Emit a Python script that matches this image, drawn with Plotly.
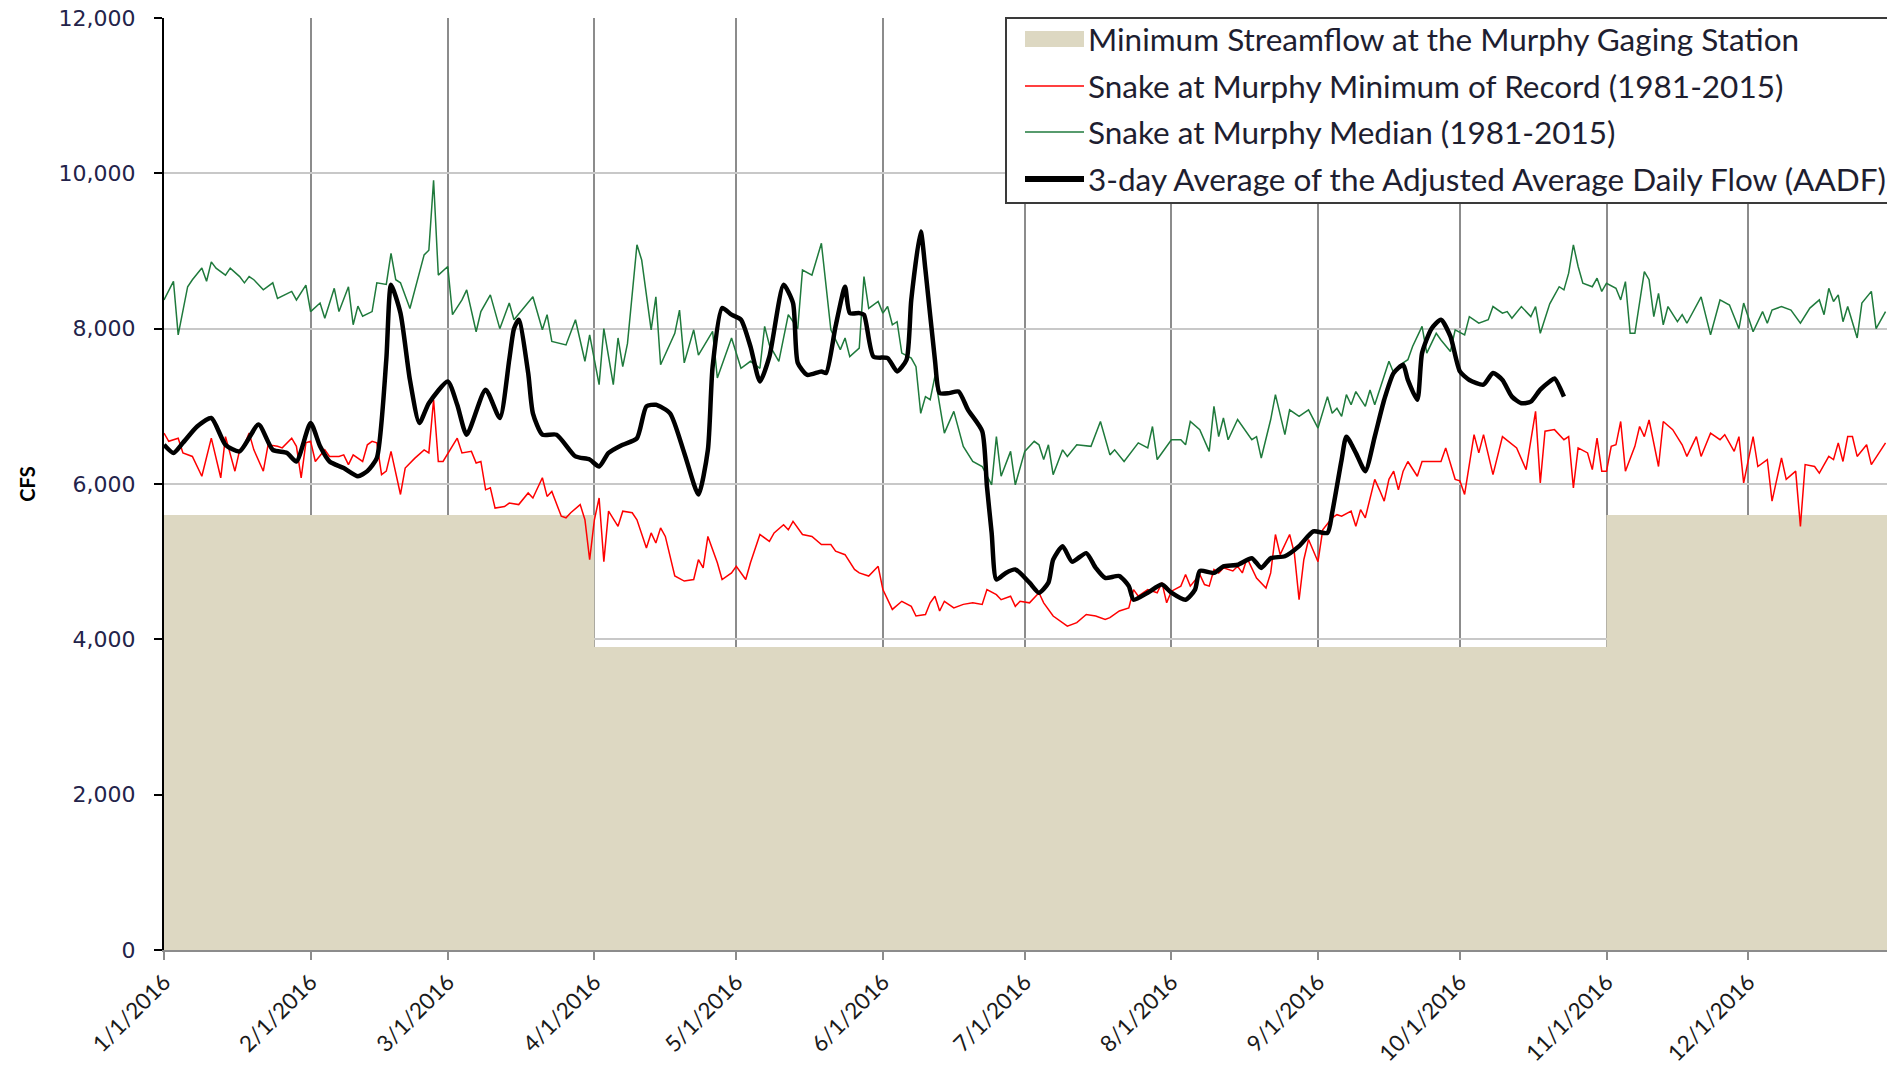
import plotly.graph_objects as go
import pandas as pd

# ---------------- data ----------------
BASE = "2016-01-01"

tick_dates = ["2016-01-01", "2016-02-01", "2016-03-01", "2016-04-01", "2016-05-01", "2016-06-01",
              "2016-07-01", "2016-08-01", "2016-09-01", "2016-10-01", "2016-11-01", "2016-12-01"]
tick_labels = ["1/1/2016", "2/1/2016", "3/1/2016", "4/1/2016", "5/1/2016", "6/1/2016",
               "7/1/2016", "8/1/2016", "9/1/2016", "10/1/2016", "11/1/2016", "12/1/2016"]

# Minimum streamflow at the Murphy gaging station (step)
min_flow_dates = ["2016-01-01", "2016-04-01", "2016-11-01", "2017-01-01"]
min_flow_cfs = [5600, 3900, 5600, 5600]

# Snake at Murphy median (1981-2015): day of year (0 = Jan 1) and CFS
median_day = [
    0, 2, 3, 5, 6, 8, 9, 10, 11, 13,
    14, 16, 17, 18, 19, 21, 23, 24, 27, 28,
    30, 31, 33, 34, 36, 37, 39, 40, 41, 42,
    44, 45, 47, 48, 49, 50, 52, 54, 55, 56,
    57, 58, 60, 61, 63, 64, 66, 67, 69, 71,
    73, 74, 78, 80, 81, 82, 85, 87, 89, 90,
    92, 93, 95, 96, 97, 98, 100, 101, 103, 104,
    105, 108, 109, 110, 112, 113, 116, 117, 120, 122,
    124, 126, 127, 128, 130, 132, 134, 135, 137, 139,
    141, 143, 144, 145, 147, 148, 149, 151, 152, 153,
    154, 155, 156, 158, 159, 160, 161, 162, 163, 165,
    167, 169, 171, 173, 175, 176, 177, 179, 180, 182,
    184, 185, 186, 187, 188, 190, 191, 193, 196, 198,
    200, 201, 203, 206, 208, 209, 210, 213, 215, 216,
    217, 219, 221, 222, 223, 224, 225, 227, 230, 231,
    232, 234, 235, 237, 238, 240, 242, 244, 246, 247,
    248, 249, 250, 251, 252, 254, 255, 256, 258, 259,
    260, 262, 263, 264, 266, 267, 269, 270, 272, 273,
    275, 276, 278, 280, 281, 283, 284, 285, 287, 289,
    290, 291, 293, 295, 296, 297, 298, 299, 300, 302,
    303, 304, 305, 307, 308, 309, 310, 311, 313, 314,
    315, 316, 317, 318, 320, 321, 322, 325, 327, 329,
    331, 333, 334, 336, 338, 339, 340, 342, 344, 346,
    348, 350, 351, 352, 353, 354, 355, 356, 358, 359,
    361, 362, 364,
]
median_cfs = [
    8370, 8610, 7920, 8540, 8630, 8780, 8610, 8860, 8780, 8690,
    8780, 8670, 8590, 8670, 8630, 8500, 8590, 8390, 8480, 8370,
    8560, 8220, 8330, 8135, 8520, 8220, 8540, 8050, 8290, 8160,
    8220, 8590, 8570, 8970, 8630, 8590, 8260, 8710, 8950, 9010,
    9910, 8690, 8800, 8180, 8370, 8500, 7960, 8220, 8435, 8000,
    8330, 8115, 8410, 7985, 8180, 7835, 7790, 8115, 7580, 7920,
    7280, 8000, 7280, 7880, 7510, 7810, 9080, 8885, 7985, 8410,
    7535, 7940, 8240, 7560, 7985, 7660, 7965, 7365, 7880, 7490,
    7580, 7490, 8030, 7790, 7580, 8180, 8000, 8755, 8690, 9100,
    7985, 7730, 7880, 7640, 7750, 8670, 8260, 8350, 8200, 8285,
    8050, 8090, 7685, 7620, 7510, 6910, 7125, 7085, 7385, 6655,
    6935, 6485, 6290, 6225, 5990, 6610, 6100, 6420, 5990, 6420,
    6550, 6505, 6315, 6505, 6120, 6440, 6355, 6505, 6485, 6805,
    6375, 6440, 6290, 6530, 6465, 6740, 6315, 6570, 6570, 6505,
    6805, 6700, 6420, 7000, 6610, 6850, 6570, 6830, 6570, 6610,
    6335, 6830, 7150, 6635, 6955, 6870, 6955, 6720, 7125, 6910,
    6975, 6870, 7150, 7020, 7190, 7000, 7210, 7020, 7385, 7580,
    7430, 7560, 7600, 7770, 8030, 7685, 7940, 7855, 7705, 7985,
    7920, 8155, 8070, 8115, 8285, 8200, 8220, 8135, 8285, 8155,
    8285, 7940, 8320, 8540, 8500, 8715, 9080, 8800, 8585, 8540,
    8650, 8480, 8585, 8520, 8370, 8605, 7940, 7940, 8735, 8630,
    8155, 8455, 8050, 8285, 8090, 8180, 8070, 8410, 7920, 8370,
    8305, 8000, 8330, 7960, 8220, 8070, 8240, 8285, 8240, 8070,
    8265, 8370, 8180, 8520, 8350, 8435, 8090, 8285, 7880, 8330,
    8480, 8000, 8220,
]

# Snake at Murphy minimum of record (1981-2015)
minrec_day = [
    0, 1, 3, 4, 6, 8, 10, 12, 13, 15,
    16, 17, 18, 19, 21, 22, 24, 25, 27, 28,
    29, 30, 31, 32, 34, 35, 37, 38, 39, 40,
    42, 43, 44, 45, 46, 47, 48, 50, 51, 53,
    55, 56, 57, 58, 59, 62, 63, 65, 66, 67,
    68, 69, 70, 72, 73, 75, 77, 78, 80, 81,
    82, 84, 85, 86, 88, 89, 90, 91, 92, 93,
    94, 96, 97, 99, 100, 102, 103, 104, 105, 106,
    108, 110, 112, 113, 114, 115, 117, 118, 120, 121,
    123, 124, 126, 128, 129, 131, 132, 133, 135, 137,
    139, 141, 142, 144, 146, 147, 149, 151, 152, 154,
    156, 158, 159, 161, 162, 163, 164, 165, 167, 169,
    171, 173, 174, 176, 177, 179, 180, 181, 183, 185,
    186, 188, 191, 193, 195, 197, 199, 200, 202, 204,
    205, 206, 208, 210, 211, 212, 213, 215, 216, 217,
    219, 220, 221, 222, 223, 224, 226, 227, 228, 229,
    231, 233, 234, 235, 236, 238, 239, 240, 241, 242,
    244, 245, 247, 248, 249, 251, 252, 253, 254, 255,
    256, 257, 258, 259, 260, 261, 262, 263, 265, 266,
    268, 270, 271, 273, 274, 275, 277, 278, 279, 281,
    283, 285, 286, 288, 290, 291, 292, 294, 296, 297,
    298, 299, 301, 302, 303, 304, 305, 306, 307, 308,
    309, 311, 312, 313, 314, 316, 317, 319, 321, 322,
    324, 325, 327, 329, 330, 332, 333, 334, 336, 337,
    339, 340, 342, 343, 345, 346, 347, 349, 350, 352,
    353, 354, 355, 356, 357, 358, 360, 361, 364,
]
minrec_cfs = [
    6655, 6550, 6590, 6400, 6355, 6100, 6590, 6080, 6610, 6165,
    6440, 6505, 6655, 6440, 6165, 6505, 6485, 6465, 6590, 6485,
    6080, 6530, 6550, 6290, 6440, 6355, 6355, 6375, 6250, 6375,
    6290, 6505, 6550, 6530, 6120, 6165, 6420, 5865, 6205, 6330,
    6440, 6400, 7085, 6290, 6290, 6590, 6400, 6420, 6270, 6290,
    5925, 5950, 5690, 5710, 5755, 5735, 5885, 5820, 6080, 5840,
    5905, 5585, 5565, 5630, 5735, 5540, 5025, 5540, 5820, 5000,
    5650, 5455, 5650, 5630, 5540, 5175, 5370, 5240, 5435, 5325,
    4815, 4750, 4770, 5025, 4920, 5325, 4985, 4770, 4855, 4940,
    4770, 4985, 5350, 5260, 5370, 5475, 5410, 5520, 5350, 5325,
    5220, 5220, 5135, 5090, 4900, 4855, 4815, 4940, 4640, 4385,
    4490, 4425, 4300, 4320, 4470, 4555, 4365, 4490, 4405, 4450,
    4470, 4450, 4640, 4575, 4510, 4555, 4425, 4490, 4470, 4600,
    4470, 4300, 4170, 4215, 4320, 4300, 4255, 4280, 4365, 4405,
    4640, 4555, 4640, 4600, 4730, 4470, 4620, 4685, 4835, 4685,
    4835, 4705, 4685, 4900, 4855, 4920, 4880, 4940, 4855, 5045,
    4790, 4660, 4855, 5350, 5090, 5350, 5110, 4510, 5025, 5285,
    5000, 5410, 5565, 5605, 5585, 5650, 5455, 5670, 5565, 5820,
    6060, 5925, 5780, 6060, 6165, 5925, 6165, 6290, 6100, 6290,
    6290, 6290, 6465, 6060, 6040, 5865, 6635, 6400, 6635, 6120,
    6610, 6505, 6465, 6185, 6935, 6015, 6680, 6700, 6570, 6610,
    5950, 6465, 6400, 6185, 6590, 6165, 6165, 6485, 6505, 6805,
    6165, 6485, 6740, 6610, 6825, 6225, 6805, 6700, 6505, 6355,
    6610, 6355, 6655, 6570, 6635, 6420, 6610, 6015, 6610, 6225,
    6315, 5780, 6335, 6060, 6165, 5455, 6250, 6225, 6140, 6355,
    6315, 6530, 6290, 6610, 6610, 6355, 6505, 6250, 6530,
]

# 3-day average of the adjusted average daily flow (AADF)
aadf_day = [
    0, 2, 4, 7, 10, 13, 16, 20, 23, 26,
    28, 31, 33, 35, 38, 41, 43, 45, 47, 48,
    50, 52, 54, 56, 60, 62, 64, 68, 71, 73,
    74, 75, 77, 78, 80, 83, 87, 90, 92, 94,
    97, 100, 102, 104, 107, 110, 113, 115, 116, 118,
    120, 122, 124, 126, 128, 131, 133, 134, 136, 139,
    140, 142, 144, 145, 147, 148, 150, 153, 155, 157,
    158, 160, 161, 163, 164, 166, 168, 170, 173, 174,
    175, 176, 178, 180, 183, 185, 187, 188, 190, 192,
    195, 197, 199, 202, 204, 205, 208, 211, 213, 216,
    218, 219, 222, 224, 227, 230, 232, 234, 237, 240,
    243, 246, 247, 249, 250, 252, 254, 256, 258, 260,
    262, 263, 265, 266, 268, 270, 272, 274, 276, 279,
    281, 283, 285, 287, 289, 291, 293, 294, 296,
]
aadf_cfs = [
    6505, 6400, 6530, 6740, 6850, 6505, 6420, 6765, 6440, 6400,
    6290, 6785, 6485, 6290, 6205, 6100, 6165, 6335, 7600, 8565,
    8200, 7340, 6785, 7040, 7320, 7020, 6635, 7215, 6850, 7600,
    8000, 8115, 7430, 6910, 6635, 6635, 6355, 6315, 6225, 6400,
    6505, 6590, 7000, 7020, 6910, 6400, 5865, 6440, 7510, 8265,
    8180, 8115, 7770, 7320, 7640, 8565, 8330, 7560, 7405, 7450,
    7430, 8030, 8540, 8200, 8200, 8180, 7640, 7620, 7450, 7600,
    8370, 9250, 8755, 7600, 7170, 7170, 7190, 6955, 6680, 5970,
    5370, 4770, 4855, 4900, 4730, 4600, 4730, 5025, 5200, 5000,
    5110, 4920, 4790, 4815, 4685, 4510, 4600, 4705, 4600, 4510,
    4640, 4880, 4855, 4940, 4960, 5045, 4920, 5045, 5070, 5200,
    5390, 5370, 5630, 6315, 6610, 6400, 6165, 6610, 7085, 7430,
    7535, 7340, 7085, 7685, 8000, 8115, 7900, 7450, 7340, 7280,
    7430, 7340, 7125, 7040, 7060, 7215, 7320, 7360, 7125,
]

series_names = [
    "Minimum Streamflow at the Murphy Gaging Station",
    "Snake at Murphy Minimum of Record (1981-2015)",
    "Snake at Murphy Median (1981-2015)",
    "3-day Average of the Adjusted Average Daily Flow (AADF)",
]


def to_dates(days):
    return pd.Timestamp(BASE) + pd.to_timedelta(days, unit="D")


# ---------------- styling ----------------
FONT = "Lato, 'Open Sans', sans-serif"
FILL_C = "#DDD8C2"
RED_C = "#FF0000"
GREEN_C = "#1F7A3C"
BLACK_C = "#000000"

# page body has an 8px margin; figure placed so plot area sits at x 164..1895, y 18..950
FIG_W, FIG_H = 1887, 1060
M_L, M_T, M_R = 156, 10, 0
PLOT_W = FIG_W - M_L - M_R          # 1731
PLOT_H = 932
M_B = FIG_H - M_T - PLOT_H          # 118


def px_x(px):   # figure-pixel -> paper x
    return (px - M_L) / PLOT_W


def px_y(py):   # figure-pixel -> paper y
    return (M_T + PLOT_H - py) / PLOT_H


fig = go.Figure()

fig.add_trace(go.Scatter(
    x=min_flow_dates, y=min_flow_cfs, mode="lines", line_shape="hv",
    fill="tozeroy", fillcolor=FILL_C, line=dict(width=0, color=FILL_C),
    name=series_names[0], showlegend=False, hoverinfo="skip",
))
fig.add_trace(go.Scatter(
    x=to_dates(minrec_day), y=minrec_cfs, mode="lines",
    line=dict(color=RED_C, width=1.5),
    name=series_names[1], showlegend=False,
))
fig.add_trace(go.Scatter(
    x=to_dates(median_day), y=median_cfs, mode="lines",
    line=dict(color=GREEN_C, width=1.5),
    name=series_names[2], showlegend=False,
))
fig.add_trace(go.Scatter(
    x=to_dates(aadf_day), y=aadf_cfs, mode="lines",
    line=dict(color=BLACK_C, width=4.5, shape="spline", smoothing=0.6),
    name=series_names[3], showlegend=False,
))

# ---------------- hand-drawn legend box (matches reference geometry) ----------------
shapes = []
annotations = []
box_l, box_t, box_b = 998, 10, 195          # figure pixels
shapes.append(dict(type="rect", xref="paper", yref="paper", layer="above",
                   x0=px_x(box_l), x1=px_x(FIG_W + 4), y0=px_y(box_b), y1=px_y(box_t),
                   fillcolor="white", line=dict(color="#3a3a3a", width=2)))
row_y = [31, 78, 124, 171]
icon_l, icon_r, text_l = 1017, 1076, 1078
for i, name in enumerate(series_names):
    yc = row_y[i]
    if i == 0:
        shapes.append(dict(type="rect", xref="paper", yref="paper", layer="above",
                           x0=px_x(icon_l), x1=px_x(icon_r), y0=px_y(yc + 8), y1=px_y(yc - 8),
                           fillcolor=FILL_C, line=dict(width=0)))
    else:
        color = [None, RED_C, GREEN_C, BLACK_C][i]
        width = [None, 1.5, 1.5, 6][i]
        shapes.append(dict(type="line", xref="paper", yref="paper", layer="above",
                           x0=px_x(icon_l), x1=px_x(icon_r), y0=px_y(yc), y1=px_y(yc),
                           line=dict(color=color, width=width)))
    annotations.append(dict(xref="paper", yref="paper", x=px_x(text_l), y=px_y(yc),
                            xanchor="left", yanchor="middle", showarrow=False, text=name,
                            font=dict(family=FONT, size=31.5, color="#1e1e30")))

fig.update_layout(
    width=FIG_W, height=FIG_H,
    margin=dict(l=M_L, r=M_R, t=M_T, b=M_B, autoexpand=False),
    paper_bgcolor="white", plot_bgcolor="white",
    showlegend=False,
    shapes=shapes, annotations=annotations,
)

fig.update_xaxes(
    type="date", range=["2016-01-01", "2017-01-01"],
    tickmode="array", tickvals=tick_dates, ticktext=tick_labels,
    tickangle=-45, tickfont=dict(family=FONT, size=22.5, color="#1a1a1a"),
    ticklabeloverflow="allow",
    showgrid=True, gridcolor="#8c8c8c", gridwidth=1.5,
    showline=True, linecolor="#8c8c8c", linewidth=2,
    ticks="outside", ticklen=8, tickcolor="#8c8c8c", tickwidth=1.5,
    zeroline=False,
)
fig.update_yaxes(
    range=[0, 12000], dtick=2000, tick0=0, tickformat=",d",
    tickfont=dict(family="DejaVu Sans", size=22, color="#23234a"),
    ticklabelstandoff=14, ticklabeloverflow="allow",
    showgrid=True, gridcolor="#c8c8c8", gridwidth=1.5,
    showline=True, linecolor="#000000", linewidth=2,
    ticks="outside", ticklen=8, tickcolor="#000000", tickwidth=1.5,
    zeroline=False,
    title=dict(text="CFS", font=dict(family=FONT, size=20, color="#000000", weight="bold"),
               standoff=18),
)

fig.write_html("out.html")
